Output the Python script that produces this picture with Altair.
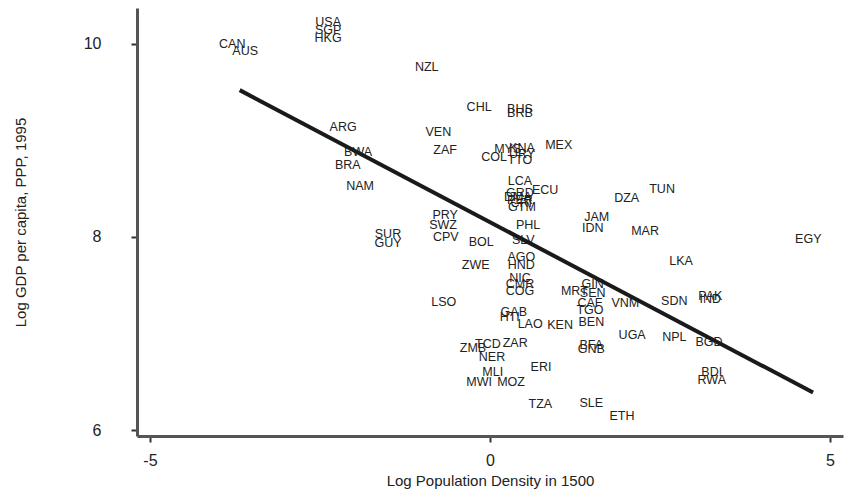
import altair as alt
import pandas as pd

codes = ["USA","SGP","HKG","CAN","AUS","NZL","CHL","BHS","BRB","ARG","VEN","ZAF",
         "MYS","KNA","URY","MEX","COL","TTO","BWA","BRA","NAM","LCA","ECU",
         "GRD","DMA","PER","CRI","GTM","DZA","TUN","JAM","IDN","MAR","PRY","SWZ",
         "CPV","SUR","GUY","BOL","PHL","SLV","EGY","AGO","HND","ZWE","LKA","NIC",
         "CMR","COG","MRT","GIN","SEN","CAF","VNM","TGO","BEN","SDN","PAK","IND",
         "LSO","GAB","HTI","LAO","KEN","UGA","NPL","BGD","TCD","ZAR","ZMB","BFA",
         "GNB","NER","MLI","MWI","MOZ","ERI","BDI","RWA","TZA","SLE","ETH"]
popdens = [-2.38,-2.38,-2.38,-3.79,-3.60,-0.93,-0.16,0.44,0.44,-2.16,-0.76,-0.66,
           0.26,0.47,0.47,1.01,0.06,0.44,-1.94,-2.09,-1.91,0.44,0.81,
           0.44,0.41,0.44,0.46,0.47,2.01,2.53,1.57,1.51,2.28,-0.66,-0.69,
           -0.65,-1.50,-1.50,-0.13,0.56,0.49,4.68,0.46,0.46,-0.21,2.81,0.44,
           0.44,0.44,1.24,1.51,1.51,1.47,1.99,1.47,1.49,2.71,3.24,3.24,
           -0.68,0.35,0.29,0.59,1.03,2.09,2.71,3.22,-0.03,0.37,-0.25,1.49,
           1.49,0.03,0.04,-0.16,0.31,0.75,3.26,3.26,0.74,1.49,1.94]
loggdp = [10.23,10.14,10.06,10.00,9.92,9.76,9.35,9.32,9.28,9.14,9.09,8.90,
          8.91,8.92,8.86,8.95,8.83,8.80,8.88,8.75,8.53,8.58,8.49,
          8.45,8.41,8.38,8.35,8.31,8.40,8.50,8.21,8.09,8.06,8.23,8.12,
          8.00,8.03,7.94,7.95,8.12,7.97,7.98,7.79,7.71,7.71,7.75,7.58,
          7.51,7.44,7.44,7.51,7.42,7.32,7.32,7.24,7.12,7.34,7.39,7.36,
          7.33,7.22,7.17,7.10,7.09,6.99,6.96,6.91,6.89,6.90,6.85,6.88,
          6.84,6.76,6.60,6.50,6.50,6.65,6.60,6.52,6.27,6.28,6.15]

fit_x = [-3.68, 4.75]
fit_y = [9.52, 6.39]

pts = pd.DataFrame({"code": codes, "x": popdens, "y": loggdp})
fit = pd.DataFrame({"x": fit_x, "y": fit_y})

xs = alt.Scale(domain=[-5.19, 5.19], nice=False, zero=False)
ys = alt.Scale(domain=[5.94, 10.37], nice=False, zero=False)

xaxis = alt.Axis(title="Log Population Density in 1500", values=[-5, 0, 5],
                 labelExpr="'' + datum.value",
                 grid=False, domainWidth=3, domainColor="#555", tickColor="#333",
                 tickSize=6, tickWidth=2, labelFontSize=16, labelColor="#222",
                 labelPadding=10, titleFontSize=15, titleFontWeight="normal",
                 titleColor="#222", titlePadding=5, labelFont="Liberation Sans",
                 titleFont="Liberation Sans")
yaxis = alt.Axis(title="Log GDP per capita, PPP, 1995", values=[6, 8, 10],
                 labelExpr="'' + datum.value",
                 grid=False, domainWidth=3, domainColor="#555", tickColor="#333",
                 tickSize=6, tickWidth=2, labelFontSize=16, labelColor="#222",
                 labelPadding=30, titleFontSize=15, titleFontWeight="normal",
                 titleColor="#222", titlePadding=55, labelFont="Liberation Sans",
                 titleFont="Liberation Sans")

labels = alt.Chart(pts).mark_text(fontSize=12.5, font="Liberation Sans", color="#222",
                                  align="center", baseline="middle").encode(
    x=alt.X("x:Q", scale=xs, axis=xaxis),
    y=alt.Y("y:Q", scale=ys, axis=yaxis),
    text="code:N",
)

line = alt.Chart(fit).mark_line(color="#1a1a1a", strokeWidth=4).encode(
    x=alt.X("x:Q", scale=xs),
    y=alt.Y("y:Q", scale=ys),
)

chart = (labels + line).properties(
    width=706, height=428,
    autosize=alt.AutoSizeParams(type="none"),
    padding={"left": 137, "top": 8, "right": 5, "bottom": 58},
    background="white",
).configure_view(stroke=None)

chart.save("out.html", embed_options={"renderer": "svg", "actions": False})
